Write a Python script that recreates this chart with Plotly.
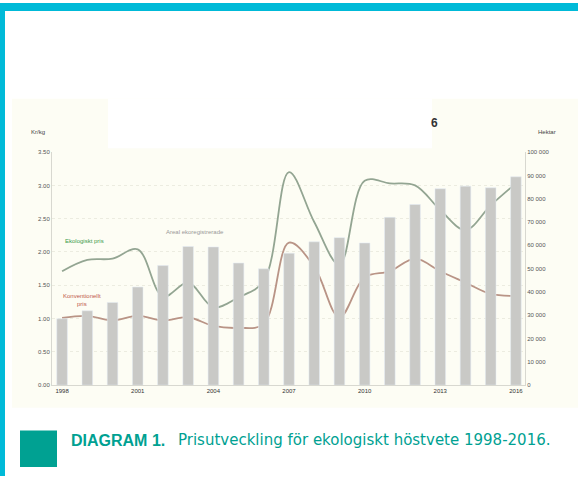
import plotly.graph_objects as go

years = list(range(1998, 2017))
areal_hektar = [28500, 31900, 35500, 42100, 51300, 59500, 59300, 52400, 49900, 56600,
                61500, 63300, 61000, 72000, 77500, 84300, 85400, 84700, 89400]
eko_pris = [1.71, 1.88, 1.90, 2.04, 1.33, 1.54, 1.17, 1.32, 1.56, 3.20,
            2.45, 1.81, 3.07, 3.03, 3.00, 2.63, 2.33, 2.70, 3.03]
konv_pris = [1.01, 1.04, 0.97, 1.04, 0.97, 1.02, 0.89, 0.86, 0.92, 2.14,
             1.78, 1.02, 1.62, 1.71, 1.90, 1.71, 1.54, 1.37, 1.34]
x_ticks = [1998, 2001, 2004, 2007, 2010, 2013, 2016]
left_ticks = [0, 0.5, 1.0, 1.5, 2.0, 2.5, 3.0, 3.5]
right_ticks = list(range(0, 100001, 10000))
right_ticktext = ["0"] + [f"{v:,}".replace(",", " ") for v in right_ticks[1:]]

W, H = 578, 479
def px(x):
    return x / W
def py(y):
    return 1 - y / H

fig = go.Figure()
fig.add_trace(go.Bar(x=years, y=areal_hektar, yaxis="y2", marker_color="#c9c9c6",
                     width=0.42, name="Areal", showlegend=False))
fig.add_trace(go.Scatter(x=years, y=eko_pris, mode="lines",
                         line=dict(color="#93a592", width=1.8, shape="spline", smoothing=1.0),
                         name="Ekologiskt pris", showlegend=False))
fig.add_trace(go.Scatter(x=years, y=konv_pris, mode="lines",
                         line=dict(color="#b99486", width=1.8, shape="spline", smoothing=1.0),
                         name="Konventionellt pris", showlegend=False))

shapes = [
    dict(type="rect", xref="paper", yref="paper", x0=px(12), x1=1, y0=py(410), y1=py(97),
         fillcolor="#fdfdf4", line_width=0, layer="below"),
    dict(type="rect", xref="paper", yref="paper", x0=px(108), x1=px(432), y0=py(147), y1=py(97),
         fillcolor="#ffffff", line_width=0, layer="below"),
    dict(type="rect", xref="paper", yref="paper", x0=0, x1=1, y0=py(8), y1=1,
         fillcolor="#00bad8", line_width=0),
    dict(type="rect", xref="paper", yref="paper", x0=0, x1=px(5), y0=0, y1=1,
         fillcolor="#00bad8", line_width=0),
    dict(type="rect", xref="paper", yref="paper", x0=px(20), x1=px(57), y0=py(470), y1=py(433),
         fillcolor="#00a192", line_width=0),
]

def ann(text, x, y, size, color, family="Liberation Sans", xanchor="center"):
    return dict(text=text, x=px(x), y=py(y), xref="paper", yref="paper", showarrow=False,
                xanchor=xanchor, yanchor="middle",
                font=dict(size=size, color=color, family=family))

annotations = [
    ann("Kr/kg", 38, 131, 6, "#444"),
    ann("Hektar", 547, 131, 6, "#444"),
    ann("<b>6</b>", 434, 122, 12, "#333"),
    ann("Ekologiskt pris", 84, 241, 6, "#3a9a4a"),
    ann("Konventionellt<br>pris", 82, 301, 6, "#c0584a"),
    ann("Areal ekoregistrerade", 195, 232, 6, "#999"),
    ann("<b>DIAGRAM 1.</b>", 69, 443, 16, "#00a192", xanchor="left"),
    ann("Prisutveckling för ekologiskt höstvete 1998-2016.", 176, 443, 15, "#00a192",
        family="DejaVu Sans", xanchor="left"),
]

fig.update_layout(
    width=W, height=H, margin=dict(l=0, r=0, t=0, b=0),
    paper_bgcolor="#ffffff", plot_bgcolor="rgba(0,0,0,0)",
    xaxis=dict(domain=[px(52), px(525)], range=[1997.6, 2016.36], tickvals=x_ticks,
               ticktext=[str(t) for t in x_ticks], showgrid=False, showline=True,
               linecolor="#d8d8d0", linewidth=1, ticks="", zeroline=False,
               tickfont=dict(size=6, color="#333", family="Liberation Sans")),
    yaxis=dict(domain=[py(387), py(151)], range=[0, 3.5], tickvals=left_ticks,
               ticktext=[f"{v:.2f}" for v in left_ticks], showline=True, linecolor="#d8d8d0",
               showgrid=True, gridcolor="#ecece0", griddash="dot", zeroline=False, ticks="",
               tickfont=dict(size=6, color="#555", family="Liberation Sans")),
    yaxis2=dict(overlaying="y", side="right", range=[0, 100000], tickvals=right_ticks,
                ticktext=right_ticktext, showline=True, linecolor="#d8d8d0", showgrid=False,
                zeroline=False, ticks="", tickfont=dict(size=6, color="#555", family="Liberation Sans")),
    shapes=shapes, annotations=annotations, showlegend=False,
)
fig.write_html("out.html", config={"displayModeBar": False},
               post_script="document.body.style.margin='0';document.body.style.padding='0';"
                           "document.documentElement.style.overflow='hidden';")
